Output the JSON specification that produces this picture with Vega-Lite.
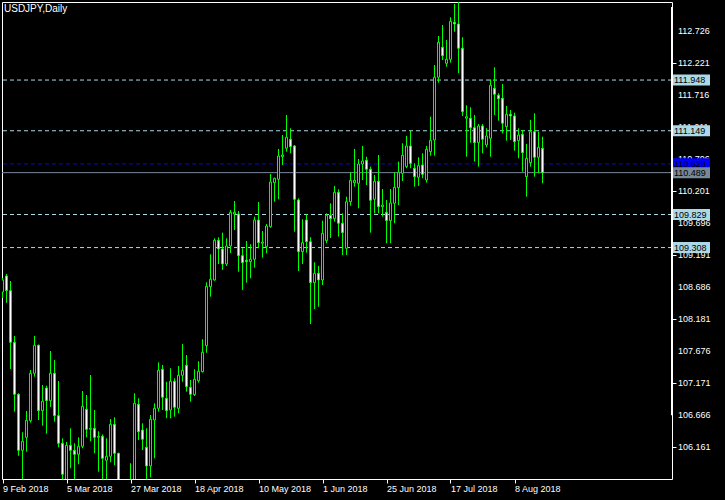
{
  "$schema": "https://vega.github.io/schema/vega-lite/v6.json",
  "width": 670,
  "height": 477,
  "autosize": {"type": "none"},
  "padding": {"left": 2, "top": 2, "right": 53, "bottom": 21},
  "background": "#000000",
  "config": {
    "view": {"fill": "#000000", "stroke": "#ffffff", "strokeWidth": 1},
    "font": "Liberation Sans",
    "scale": {"continuousPadding": 0},
    "axis": {"labelOverlap": false, "labelBound": false, "labelFlush": false, "grid": false, "domain": false, "title": null}
  },
  "datasets": {
    "levels": [
      {"p": 111.948, "k": "level"},
      {"p": 111.149, "k": "level"},
      {"p": 110.628, "k": "mark"},
      {"p": 110.489, "k": "bid"},
      {"p": 109.829, "k": "level"},
      {"p": 109.308, "k": "level"}
    ],
    "scaleLabels": [
      {"v": 112.726}, {"v": 112.221}, {"v": 111.716}, {"v": 111.211}, {"v": 110.706}, {"v": 110.201}, {"v": 109.696},
      {"v": 109.191}, {"v": 108.686}, {"v": 108.181}, {"v": 107.676}, {"v": 107.171}, {"v": 106.666}, {"v": 106.161}
    ],
    "caption": [{"t": "USDJPY,Daily"}],
    "bars": [
      {"d": "2018-02-09", "o": 108.608, "h": 108.829, "l": 108.514, "c": 108.797},
      {"d": "2018-02-12", "o": 108.860, "h": 108.892, "l": 108.439, "c": 108.629},
      {"d": "2018-02-13", "o": 108.629, "h": 108.781, "l": 107.395, "c": 107.815},
      {"d": "2018-02-14", "o": 107.815, "h": 107.915, "l": 106.722, "c": 106.996},
      {"d": "2018-02-15", "o": 106.996, "h": 107.012, "l": 106.028, "c": 106.113},
      {"d": "2018-02-16", "o": 106.113, "h": 106.397, "l": 105.566, "c": 106.255},
      {"d": "2018-02-19", "o": 106.318, "h": 106.733, "l": 106.091, "c": 106.586},
      {"d": "2018-02-20", "o": 106.580, "h": 107.379, "l": 106.548, "c": 107.327},
      {"d": "2018-02-21", "o": 107.327, "h": 107.915, "l": 107.273, "c": 107.768},
      {"d": "2018-02-22", "o": 107.768, "h": 107.780, "l": 106.591, "c": 106.737},
      {"d": "2018-02-23", "o": 106.737, "h": 107.142, "l": 106.501, "c": 106.886},
      {"d": "2018-02-26", "o": 107.095, "h": 107.131, "l": 106.375, "c": 106.895},
      {"d": "2018-02-27", "o": 106.895, "h": 107.678, "l": 106.796, "c": 107.327},
      {"d": "2018-02-28", "o": 107.327, "h": 107.536, "l": 106.564, "c": 106.659},
      {"d": "2018-03-01", "o": 106.659, "h": 107.205, "l": 106.161, "c": 106.224},
      {"d": "2018-03-02", "o": 106.224, "h": 106.302, "l": 105.250, "c": 105.735},
      {"d": "2018-03-05", "o": 105.650, "h": 106.244, "l": 105.500, "c": 106.192},
      {"d": "2018-03-06", "o": 106.192, "h": 106.460, "l": 105.830, "c": 106.113},
      {"d": "2018-03-07", "o": 106.113, "h": 106.224, "l": 105.600, "c": 106.050},
      {"d": "2018-03-08", "o": 106.050, "h": 106.318, "l": 105.893, "c": 106.176},
      {"d": "2018-03-09", "o": 106.176, "h": 107.048, "l": 106.145, "c": 106.807},
      {"d": "2018-03-12", "o": 106.759, "h": 106.985, "l": 106.318, "c": 106.444},
      {"d": "2018-03-13", "o": 106.444, "h": 107.300, "l": 106.255, "c": 106.460},
      {"d": "2018-03-14", "o": 106.460, "h": 106.748, "l": 106.066, "c": 106.318},
      {"d": "2018-03-15", "o": 106.318, "h": 106.413, "l": 105.776, "c": 106.334},
      {"d": "2018-03-16", "o": 106.334, "h": 106.365, "l": 105.550, "c": 105.987},
      {"d": "2018-03-19", "o": 105.956, "h": 106.302, "l": 105.600, "c": 106.019},
      {"d": "2018-03-20", "o": 106.019, "h": 106.607, "l": 105.924, "c": 106.523},
      {"d": "2018-03-21", "o": 106.523, "h": 106.633, "l": 105.877, "c": 106.066},
      {"d": "2018-03-22", "o": 106.066, "h": 106.075, "l": 105.250, "c": 105.300},
      {"d": "2018-03-23", "o": 105.300, "h": 105.500, "l": 104.630, "c": 104.720},
      {"d": "2018-03-26", "o": 104.750, "h": 105.500, "l": 104.650, "c": 105.400},
      {"d": "2018-03-27", "o": 105.400, "h": 105.909, "l": 104.950, "c": 105.380},
      {"d": "2018-03-28", "o": 105.380, "h": 107.012, "l": 105.300, "c": 106.854},
      {"d": "2018-03-29", "o": 106.838, "h": 106.933, "l": 106.276, "c": 106.406},
      {"d": "2018-03-30", "o": 106.433, "h": 106.539, "l": 106.118, "c": 106.287},
      {"d": "2018-04-02", "o": 106.161, "h": 106.460, "l": 105.660, "c": 105.866},
      {"d": "2018-04-03", "o": 105.866, "h": 106.670, "l": 105.688, "c": 106.602},
      {"d": "2018-04-04", "o": 106.591, "h": 106.854, "l": 105.987, "c": 106.775},
      {"d": "2018-04-05", "o": 106.775, "h": 107.500, "l": 106.722, "c": 107.374},
      {"d": "2018-04-06", "o": 107.390, "h": 107.458, "l": 106.748, "c": 106.949},
      {"d": "2018-04-09", "o": 106.933, "h": 107.194, "l": 106.618, "c": 106.737},
      {"d": "2018-04-10", "o": 106.748, "h": 107.406, "l": 106.618, "c": 107.201},
      {"d": "2018-04-11", "o": 107.201, "h": 107.248, "l": 106.643, "c": 106.791},
      {"d": "2018-04-12", "o": 106.775, "h": 107.442, "l": 106.696, "c": 107.295},
      {"d": "2018-04-13", "o": 107.295, "h": 107.789, "l": 107.194, "c": 107.374},
      {"d": "2018-04-16", "o": 107.453, "h": 107.615, "l": 107.037, "c": 107.116},
      {"d": "2018-04-17", "o": 107.106, "h": 107.221, "l": 106.879, "c": 106.996},
      {"d": "2018-04-18", "o": 106.990, "h": 107.390, "l": 106.969, "c": 107.232},
      {"d": "2018-04-19", "o": 107.210, "h": 107.516, "l": 107.179, "c": 107.358},
      {"d": "2018-04-20", "o": 107.352, "h": 107.863, "l": 107.340, "c": 107.658},
      {"d": "2018-04-23", "o": 107.762, "h": 108.761, "l": 107.651, "c": 108.698},
      {"d": "2018-04-24", "o": 108.692, "h": 109.202, "l": 108.534, "c": 108.808},
      {"d": "2018-04-25", "o": 108.797, "h": 109.454, "l": 108.786, "c": 109.423},
      {"d": "2018-04-26", "o": 109.423, "h": 109.470, "l": 109.049, "c": 109.286},
      {"d": "2018-04-27", "o": 109.286, "h": 109.543, "l": 108.955, "c": 109.049},
      {"d": "2018-04-30", "o": 109.049, "h": 109.454, "l": 109.018, "c": 109.333},
      {"d": "2018-05-01", "o": 109.333, "h": 109.900, "l": 109.223, "c": 109.861},
      {"d": "2018-05-02", "o": 109.837, "h": 110.042, "l": 109.585, "c": 109.864},
      {"d": "2018-05-03", "o": 109.837, "h": 109.885, "l": 108.928, "c": 109.180},
      {"d": "2018-05-04", "o": 109.180, "h": 109.297, "l": 108.640, "c": 109.070},
      {"d": "2018-05-07", "o": 109.108, "h": 109.412, "l": 108.755, "c": 109.086},
      {"d": "2018-05-08", "o": 109.086, "h": 109.360, "l": 108.824, "c": 109.124},
      {"d": "2018-05-09", "o": 109.124, "h": 109.795, "l": 108.991, "c": 109.743},
      {"d": "2018-05-10", "o": 109.743, "h": 110.026, "l": 109.297, "c": 109.385},
      {"d": "2018-05-11", "o": 109.376, "h": 109.569, "l": 109.149, "c": 109.396},
      {"d": "2018-05-14", "o": 109.322, "h": 109.680, "l": 109.218, "c": 109.648},
      {"d": "2018-05-15", "o": 109.637, "h": 110.468, "l": 109.620, "c": 110.342},
      {"d": "2018-05-16", "o": 110.331, "h": 110.410, "l": 110.031, "c": 110.400},
      {"d": "2018-05-17", "o": 110.384, "h": 110.862, "l": 110.069, "c": 110.751},
      {"d": "2018-05-18", "o": 110.740, "h": 111.082, "l": 110.610, "c": 110.767},
      {"d": "2018-05-21", "o": 110.873, "h": 111.398, "l": 110.819, "c": 111.046},
      {"d": "2018-05-22", "o": 111.015, "h": 111.188, "l": 110.794, "c": 110.898},
      {"d": "2018-05-23", "o": 110.909, "h": 110.925, "l": 109.558, "c": 110.069},
      {"d": "2018-05-24", "o": 110.058, "h": 110.085, "l": 108.939, "c": 109.243},
      {"d": "2018-05-25", "o": 109.243, "h": 109.754, "l": 109.049, "c": 109.385},
      {"d": "2018-05-28", "o": 109.743, "h": 109.833, "l": 109.227, "c": 109.401},
      {"d": "2018-05-29", "o": 109.401, "h": 109.470, "l": 108.104, "c": 108.755},
      {"d": "2018-05-30", "o": 108.755, "h": 109.076, "l": 108.340, "c": 108.903},
      {"d": "2018-05-31", "o": 108.903, "h": 109.018, "l": 108.376, "c": 108.797},
      {"d": "2018-06-01", "o": 108.797, "h": 109.732, "l": 108.718, "c": 109.533},
      {"d": "2018-06-04", "o": 109.417, "h": 109.848, "l": 109.376, "c": 109.817},
      {"d": "2018-06-05", "o": 109.817, "h": 110.006, "l": 109.459, "c": 109.763},
      {"d": "2018-06-06", "o": 109.763, "h": 110.279, "l": 109.716, "c": 110.179},
      {"d": "2018-06-07", "o": 110.179, "h": 110.227, "l": 109.480, "c": 109.691},
      {"d": "2018-06-08", "o": 109.691, "h": 109.848, "l": 109.191, "c": 109.543},
      {"d": "2018-06-11", "o": 109.297, "h": 110.110, "l": 109.191, "c": 110.031},
      {"d": "2018-06-12", "o": 110.031, "h": 110.495, "l": 109.968, "c": 110.368},
      {"d": "2018-06-13", "o": 110.331, "h": 110.862, "l": 110.268, "c": 110.368},
      {"d": "2018-06-14", "o": 110.321, "h": 110.704, "l": 109.927, "c": 110.625},
      {"d": "2018-06-15", "o": 110.625, "h": 110.909, "l": 110.373, "c": 110.673},
      {"d": "2018-06-18", "o": 110.684, "h": 110.740, "l": 110.294, "c": 110.542},
      {"d": "2018-06-19", "o": 110.542, "h": 110.583, "l": 109.543, "c": 110.053},
      {"d": "2018-06-20", "o": 110.069, "h": 110.452, "l": 109.848, "c": 110.353},
      {"d": "2018-06-21", "o": 110.353, "h": 110.767, "l": 109.848, "c": 109.952},
      {"d": "2018-06-22", "o": 109.952, "h": 110.231, "l": 109.795, "c": 109.979},
      {"d": "2018-06-25", "o": 109.864, "h": 110.058, "l": 109.376, "c": 109.732},
      {"d": "2018-06-26", "o": 109.732, "h": 110.231, "l": 109.376, "c": 110.011},
      {"d": "2018-06-27", "o": 110.006, "h": 110.495, "l": 109.691, "c": 110.258},
      {"d": "2018-06-28", "o": 110.252, "h": 110.662, "l": 109.979, "c": 110.495},
      {"d": "2018-06-29", "o": 110.479, "h": 110.952, "l": 110.357, "c": 110.762},
      {"d": "2018-07-02", "o": 110.583, "h": 111.067, "l": 110.558, "c": 110.909},
      {"d": "2018-07-03", "o": 110.909, "h": 111.150, "l": 110.558, "c": 110.636},
      {"d": "2018-07-04", "o": 110.558, "h": 110.636, "l": 110.268, "c": 110.425},
      {"d": "2018-07-05", "o": 110.416, "h": 110.731, "l": 110.279, "c": 110.599},
      {"d": "2018-07-06", "o": 110.610, "h": 110.794, "l": 110.400, "c": 110.463},
      {"d": "2018-07-09", "o": 110.373, "h": 110.909, "l": 110.331, "c": 110.857},
      {"d": "2018-07-10", "o": 110.819, "h": 111.371, "l": 110.756, "c": 110.999},
      {"d": "2018-07-11", "o": 111.004, "h": 112.186, "l": 110.756, "c": 111.992},
      {"d": "2018-07-12", "o": 111.992, "h": 112.643, "l": 111.907, "c": 112.543},
      {"d": "2018-07-13", "o": 112.465, "h": 112.816, "l": 112.264, "c": 112.332},
      {"d": "2018-07-16", "o": 112.212, "h": 112.580, "l": 112.159, "c": 112.275},
      {"d": "2018-07-17", "o": 112.275, "h": 112.937, "l": 112.222, "c": 112.874},
      {"d": "2018-07-18", "o": 112.859, "h": 113.147, "l": 112.710, "c": 112.832},
      {"d": "2018-07-19", "o": 112.832, "h": 113.178, "l": 112.055, "c": 112.449},
      {"d": "2018-07-20", "o": 112.449, "h": 112.622, "l": 111.382, "c": 111.450},
      {"d": "2018-07-23", "o": 111.346, "h": 111.550, "l": 110.740, "c": 111.371},
      {"d": "2018-07-24", "o": 111.346, "h": 111.519, "l": 110.961, "c": 111.197},
      {"d": "2018-07-25", "o": 111.197, "h": 111.398, "l": 110.662, "c": 110.961},
      {"d": "2018-07-26", "o": 110.961, "h": 111.256, "l": 110.583, "c": 111.224},
      {"d": "2018-07-27", "o": 111.224, "h": 111.256, "l": 110.794, "c": 111.015},
      {"d": "2018-07-30", "o": 110.925, "h": 111.188, "l": 110.889, "c": 111.067},
      {"d": "2018-07-31", "o": 111.030, "h": 111.960, "l": 110.740, "c": 111.866},
      {"d": "2018-08-01", "o": 111.818, "h": 112.149, "l": 111.398, "c": 111.724},
      {"d": "2018-08-02", "o": 111.708, "h": 111.740, "l": 111.308, "c": 111.654},
      {"d": "2018-08-03", "o": 111.661, "h": 111.886, "l": 111.109, "c": 111.267},
      {"d": "2018-08-06", "o": 111.213, "h": 111.539, "l": 110.993, "c": 111.409},
      {"d": "2018-08-07", "o": 111.409, "h": 111.476, "l": 111.004, "c": 111.382},
      {"d": "2018-08-08", "o": 111.382, "h": 111.434, "l": 110.835, "c": 110.977},
      {"d": "2018-08-09", "o": 110.993, "h": 111.188, "l": 110.715, "c": 111.082},
      {"d": "2018-08-10", "o": 111.093, "h": 111.161, "l": 110.504, "c": 110.803},
      {"d": "2018-08-13", "o": 110.425, "h": 110.941, "l": 110.110, "c": 110.715},
      {"d": "2018-08-14", "o": 110.646, "h": 111.319, "l": 110.583, "c": 111.134},
      {"d": "2018-08-15", "o": 111.134, "h": 111.424, "l": 110.425, "c": 110.731},
      {"d": "2018-08-16", "o": 110.731, "h": 111.134, "l": 110.479, "c": 110.889},
      {"d": "2018-08-17", "o": 110.873, "h": 111.056, "l": 110.321, "c": 110.488}
    ]
  },
  "layer": [
    {
      "data": {"name": "levels"},
      "mark": {"type": "rule", "strokeWidth": 1},
      "encoding": {
        "y": {
          "field": "p", "type": "quantitative",
          "scale": {"domain": [105.661, 113.178], "zero": false, "nice": false, "padding": 0},
          "axis": {
            "orient": "right",
            "values": [112.726, 112.221, 111.716, 111.211, 110.706, 110.201, 109.696, 109.191, 108.686, 108.181, 107.676, 107.171, 106.666, 106.161],
            "labels": false,
            "tickColor": "#ffffff", "tickSize": 4, "domain": false, "grid": false, "title": null
          }
        },
        "color": {"field": "k", "type": "nominal", "scale": {"domain": ["level", "mark", "bid"], "range": ["#add8e6", "#0000ff", "#778899"]}, "legend": null},
        "strokeDash": {"field": "k", "type": "nominal", "scale": {"domain": ["level", "mark", "bid"], "range": [[4, 3], [4, 3], [1, 0]]}, "legend": null}
      }
    },
    {
      "data": {"name": "bars"},
      "transform": [{"window": [{"op": "row_number", "as": "n"}]}],
      "mark": {"type": "rule", "color": "#00ff00", "strokeWidth": 1, "clip": true},
      "encoding": {
        "x": {
          "field": "n", "type": "quantitative",
          "scale": {"domain": [0.875, 168.375], "zero": false, "nice": false, "padding": 0},
          "axis": {
            "orient": "bottom", "values": [1, 17, 33, 49, 65, 81, 97, 113, 129],
            "labelExpr": "['9 Feb 2018','5 Mar 2018','27 Mar 2018','18 Apr 2018','10 May 2018','1 Jun 2018','25 Jun 2018','17 Jul 2018','8 Aug 2018'][(datum.value-1)/16]",
            "labelAlign": "left", "labelBaseline": "top", "labelColor": "#ffffff", "labelFont": "Liberation Sans", "labelFontSize": 9,
            "labelPadding": 1, "labelOverlap": false, "labelFlush": false, "labelBound": false,
            "tickColor": "#ffffff", "tickSize": 4, "domain": false, "grid": false, "title": null
          }
        },
        "y": {"field": "l", "type": "quantitative"},
        "y2": {"field": "h"}
      }
    },
    {
      "data": {"name": "bars"},
      "transform": [{"window": [{"op": "row_number", "as": "n"}]}],
      "mark": {"type": "bar", "size": 2, "stroke": "#00ff00", "strokeWidth": 1, "clip": true},
      "encoding": {
        "x": {"field": "n", "type": "quantitative"},
        "y": {"field": "o", "type": "quantitative"},
        "y2": {"field": "c"},
        "fill": {"condition": {"test": "datum.c < datum.o", "value": "#ffffff"}, "value": "#000000"}
      }
    },
    {
      "data": {"name": "scaleLabels"},
      "mark": {"type": "text", "align": "left", "baseline": "middle", "fontSize": 9, "font": "Liberation Sans", "color": "#ffffff", "clip": false},
      "encoding": {
        "x": {"datum": 169.875, "type": "quantitative"},
        "y": {"field": "v", "type": "quantitative"},
        "text": {"field": "v", "type": "quantitative", "format": ".3f"}
      }
    },
    {
      "data": {"name": "levels"},
      "mark": {"type": "tick", "orient": "horizontal", "size": 39, "thickness": 11, "opacity": 1, "clip": false},
      "encoding": {
        "x": {"datum": 173.0, "type": "quantitative"},
        "y": {"field": "p", "type": "quantitative"},
        "color": {"field": "k", "type": "nominal", "legend": null}
      }
    },
    {
      "data": {"name": "levels"},
      "mark": {"type": "text", "align": "left", "baseline": "middle", "fontSize": 9, "font": "Liberation Sans", "color": "#000000", "clip": false},
      "encoding": {
        "x": {"datum": 168.875, "type": "quantitative"},
        "y": {"field": "p", "type": "quantitative"},
        "text": {"field": "p", "type": "quantitative", "format": ".3f"}
      }
    },
    {
      "data": {"name": "caption"},
      "mark": {"type": "text", "align": "left", "baseline": "middle", "fontSize": 10, "font": "Liberation Sans", "color": "#ffffff", "clip": false},
      "encoding": {
        "x": {"datum": 1.375, "type": "quantitative"},
        "y": {"datum": 113.068, "type": "quantitative"},
        "text": {"field": "t", "type": "nominal"}
      }
    },
    {
      "data": {"values": [{}]},
      "mark": {"type": "rule", "color": "#ffffff", "strokeWidth": 2, "clip": false},
      "encoding": {
        "x": {"datum": 168.375, "type": "quantitative"},
        "y": {"datum": 113.1, "type": "quantitative"},
        "y2": {"datum": 106.666}
      }
    }
  ]
}
